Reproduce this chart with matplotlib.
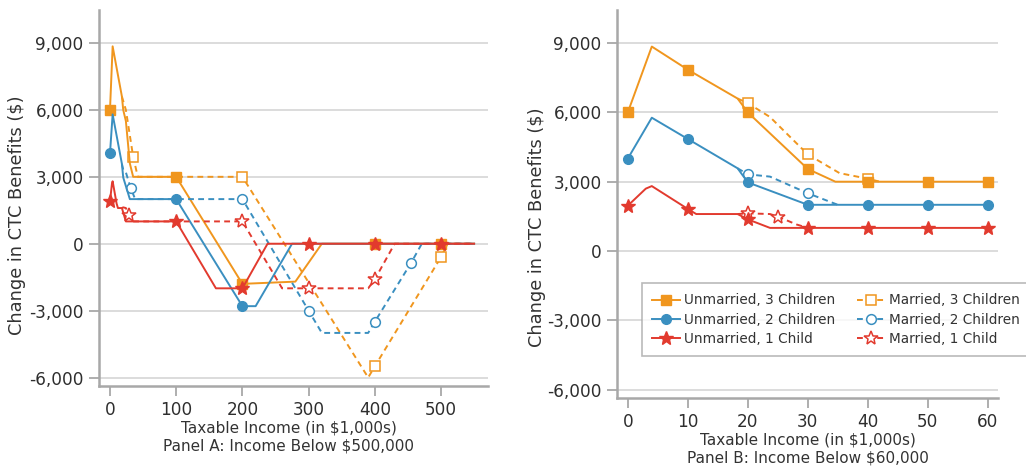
import matplotlib
matplotlib.use("Agg")
import matplotlib.pyplot as plt

# colores de las series
ORANGE = "#f0961e"
BLUE = "#3a8fc0"
RED = "#e23a2e"
GRID = "#d9d9d9"
SPINE = "#a8a8a8"
TEXT = "#333333"

# --- Panel A: ingresos por debajo de 500,000 (x en miles) ---
a_u3_x = [0, 4, 18, 20, 24, 30, 35, 100, 200, 280, 320, 400, 500, 550]
a_u3_y = [6000, 8850, 6600, 6000, 5500, 3600, 3000, 3000, -1800, -1700, 0, 0, 0, 0]
a_u2_x = [0, 4, 18, 20, 30, 100, 200, 220, 275, 300, 400, 500, 550]
a_u2_y = [4050, 5800, 3580, 2970, 2000, 2000, -2800, -2800, 0, 0, 0, 0, 0]
a_u1_x = [0, 3, 4, 10, 12, 18, 20, 24, 100, 160, 200, 238, 300, 400, 500, 550]
a_u1_y = [1900, 2700, 2800, 1800, 1600, 1600, 1400, 1000, 1000, -2000, -2000, 0, 0, 0, 0, 0]

a_m3_x = [18, 20, 24, 35, 42, 200, 390, 400, 500, 510, 550]
a_m3_y = [6600, 6400, 6000, 3900, 3000, 3000, -6000, -5500, -600, 0, 0]
a_m2_x = [18, 20, 24, 31, 38, 200, 300, 320, 390, 400, 455, 471, 550]
a_m2_y = [3580, 3320, 3200, 2520, 2000, 2000, -3000, -4000, -4000, -3500, -850, 0, 0]
a_m1_x = [18, 20, 24, 29, 33, 200, 260, 300, 390, 400, 430, 550]
a_m1_y = [1600, 1630, 1600, 1270, 1000, 1000, -2000, -2000, -2000, -1600, 0, 0]

# indices con marcador
a_u3_mk = [0, 7, 8, 11, 12]
a_u2_mk = [0, 5, 6]
a_u1_mk = [0, 8, 10, 12, 13, 14]
a_m3_mk = [3, 5, 7, 8]
a_m2_mk = [3, 5, 6, 9, 10]
a_m1_mk = [3, 5, 7, 9]

# --- Panel B: ingresos por debajo de 60,000 ---
b_u3_x = [0, 4, 10, 18.3, 20, 30, 34.6, 40, 50, 60]
b_u3_y = [6000, 8850, 7850, 6600, 6000, 3550, 3000, 3000, 3000, 3000]
b_u2_x = [0, 4, 10, 18.3, 20, 30, 40, 50, 60]
b_u2_y = [4000, 5770, 4850, 3580, 2970, 2000, 2000, 2000, 2000]
b_u1_x = [0, 3, 4, 10, 11.4, 18.3, 20, 23.7, 30, 40, 50, 60]
b_u1_y = [1960, 2700, 2810, 1820, 1600, 1600, 1370, 1000, 1000, 1000, 1000, 1000]

b_m3_x = [18.3, 20, 23.7, 30, 35.3, 40, 42]
b_m3_y = [6600, 6400, 5800, 4180, 3370, 3130, 3000]
b_m2_x = [18.3, 20, 23.7, 30, 35]
b_m2_y = [3580, 3320, 3220, 2500, 2000]
b_m1_x = [18.3, 20, 23.7, 25, 28.1, 30]
b_m1_y = [1600, 1630, 1600, 1490, 1150, 1000]

b_u3_mk = [0, 2, 4, 5, 7, 8, 9]
b_u2_mk = [0, 2, 4, 5, 6, 7, 8]
b_u1_mk = [0, 3, 6, 8, 9, 10, 11]
b_m3_mk = [1, 3, 5]
b_m2_mk = [1, 3]
b_m1_mk = [1, 3]

labels = ["Unmarried, 3 Children", "Unmarried, 2 Children", "Unmarried, 1 Child",
          "Married, 3 Children", "Married, 2 Children", "Married, 1 Child"]
yticks = [-6000, -3000, 0, 3000, 6000, 9000]
ytick_labels = ["-6,000", "-3,000", "0", "3,000", "6,000", "9,000"]

plt.rcParams["font.family"] = ["DejaVu Sans"]


def draw_panel(ax, series, xticks, xlim, ylim):
    handles = []
    for x, y, mk, color, marker, ms, dashed in series:
        if dashed:
            line, = ax.plot(x, y, color=color, lw=1.4, linestyle=(0, (3, 2.2)),
                            marker=marker, markevery=mk, markersize=ms,
                            markerfacecolor="white", markeredgecolor=color,
                            markeredgewidth=1.1)
        else:
            line, = ax.plot(x, y, color=color, lw=1.4, marker=marker,
                            markevery=mk, markersize=ms, markerfacecolor=color,
                            markeredgecolor=color)
        handles.append(line)

    ax.set_xlim(*xlim)
    ax.set_ylim(*ylim)
    ax.set_yticks(yticks)
    ax.set_yticklabels(ytick_labels, fontsize=12.2, color="#2e2e2e")
    ax.set_xticks(xticks)
    ax.set_xticklabels([str(t) for t in xticks], fontsize=12.2, color="#2e2e2e")
    ax.yaxis.grid(True, color=GRID, lw=1.3)
    ax.set_axisbelow(True)
    for side in ["top", "right"]:
        ax.spines[side].set_visible(False)
    for side in ["left", "bottom"]:
        ax.spines[side].set_color(SPINE)
        ax.spines[side].set_linewidth(1.8)
    ax.tick_params(axis="both", color=SPINE, length=7, width=1.3)
    ax.tick_params(axis="x", pad=4)
    ax.tick_params(axis="y", pad=4)
    ax.set_ylabel("Change in CTC Benefits ($)", fontsize=12.8, color=TEXT)
    return handles


fig = plt.figure(figsize=(10.26, 4.72), dpi=100)

# Panel A
axA = fig.add_axes([99 / 1026, 1 - 386 / 472, (488 - 99) / 1026, (386 - 10) / 472])
seriesA = [
    (a_m3_x, a_m3_y, a_m3_mk, ORANGE, "s", 7.5, True),
    (a_u3_x, a_u3_y, a_u3_mk, ORANGE, "s", 7.5, False),
    (a_m2_x, a_m2_y, a_m2_mk, BLUE, "o", 7, True),
    (a_u2_x, a_u2_y, a_u2_mk, BLUE, "o", 7, False),
    (a_m1_x, a_m1_y, a_m1_mk, RED, "*", 10.5, True),
    (a_u1_x, a_u1_y, a_u1_mk, RED, "*", 10.5, False),
]
draw_panel(axA, seriesA, [0, 100, 200, 300, 400, 500], (-16.6, 571), (-6380, 10480))
axA.set_xlabel("Taxable Income (in $1,000s)\nPanel A: Income Below $500,000",
               fontsize=11, color=TEXT, linespacing=1.2)
axA.xaxis.set_label_coords(0.488, -0.093, transform=axA.transAxes)
axA.xaxis.label.set_va("top")
axA.yaxis.set_label_coords(-0.188, 0.455)

# Panel B
axB = fig.add_axes([617 / 1026, 1 - 398 / 472, (998 - 617) / 1026, (398 - 10) / 472])
seriesB = [
    (b_m3_x, b_m3_y, b_m3_mk, ORANGE, "s", 7.5, True),
    (b_u3_x, b_u3_y, b_u3_mk, ORANGE, "s", 7.5, False),
    (b_m2_x, b_m2_y, b_m2_mk, BLUE, "o", 7, True),
    (b_u2_x, b_u2_y, b_u2_mk, BLUE, "o", 7, False),
    (b_m1_x, b_m1_y, b_m1_mk, RED, "*", 10.5, True),
    (b_u1_x, b_u1_y, b_u1_mk, RED, "*", 10.5, False),
]
hB = draw_panel(axB, seriesB, [0, 10, 20, 30, 40, 50, 60], (-1.8, 61.7), (-6364, 10433))
axB.set_xlabel("Taxable Income (in $1,000s)\nPanel B: Income Below $60,000",
               fontsize=11, color=TEXT, linespacing=1.2)
axB.xaxis.set_label_coords(0.5, -0.09, transform=axB.transAxes)
axB.xaxis.label.set_va("top")
axB.yaxis.set_label_coords(-0.186, 0.44)

# leyenda: columna 1 solteros, columna 2 casados
order = [hB[1], hB[3], hB[5], hB[0], hB[2], hB[4]]
leg = axB.legend(order, labels, ncol=2, loc="upper left", bbox_to_anchor=(0.066, 0.296),
                 borderaxespad=0, frameon=True, fancybox=False, handlelength=2.0,
                 handletextpad=0.35, columnspacing=1.6, labelspacing=0.4,
                 borderpad=0.75, prop={"size": 9.8})
leg.get_frame().set_edgecolor(SPINE)
leg.get_frame().set_linewidth(1.2)
for t in leg.get_texts():
    t.set_color(TEXT)

fig.savefig("out.png", dpi=100)
